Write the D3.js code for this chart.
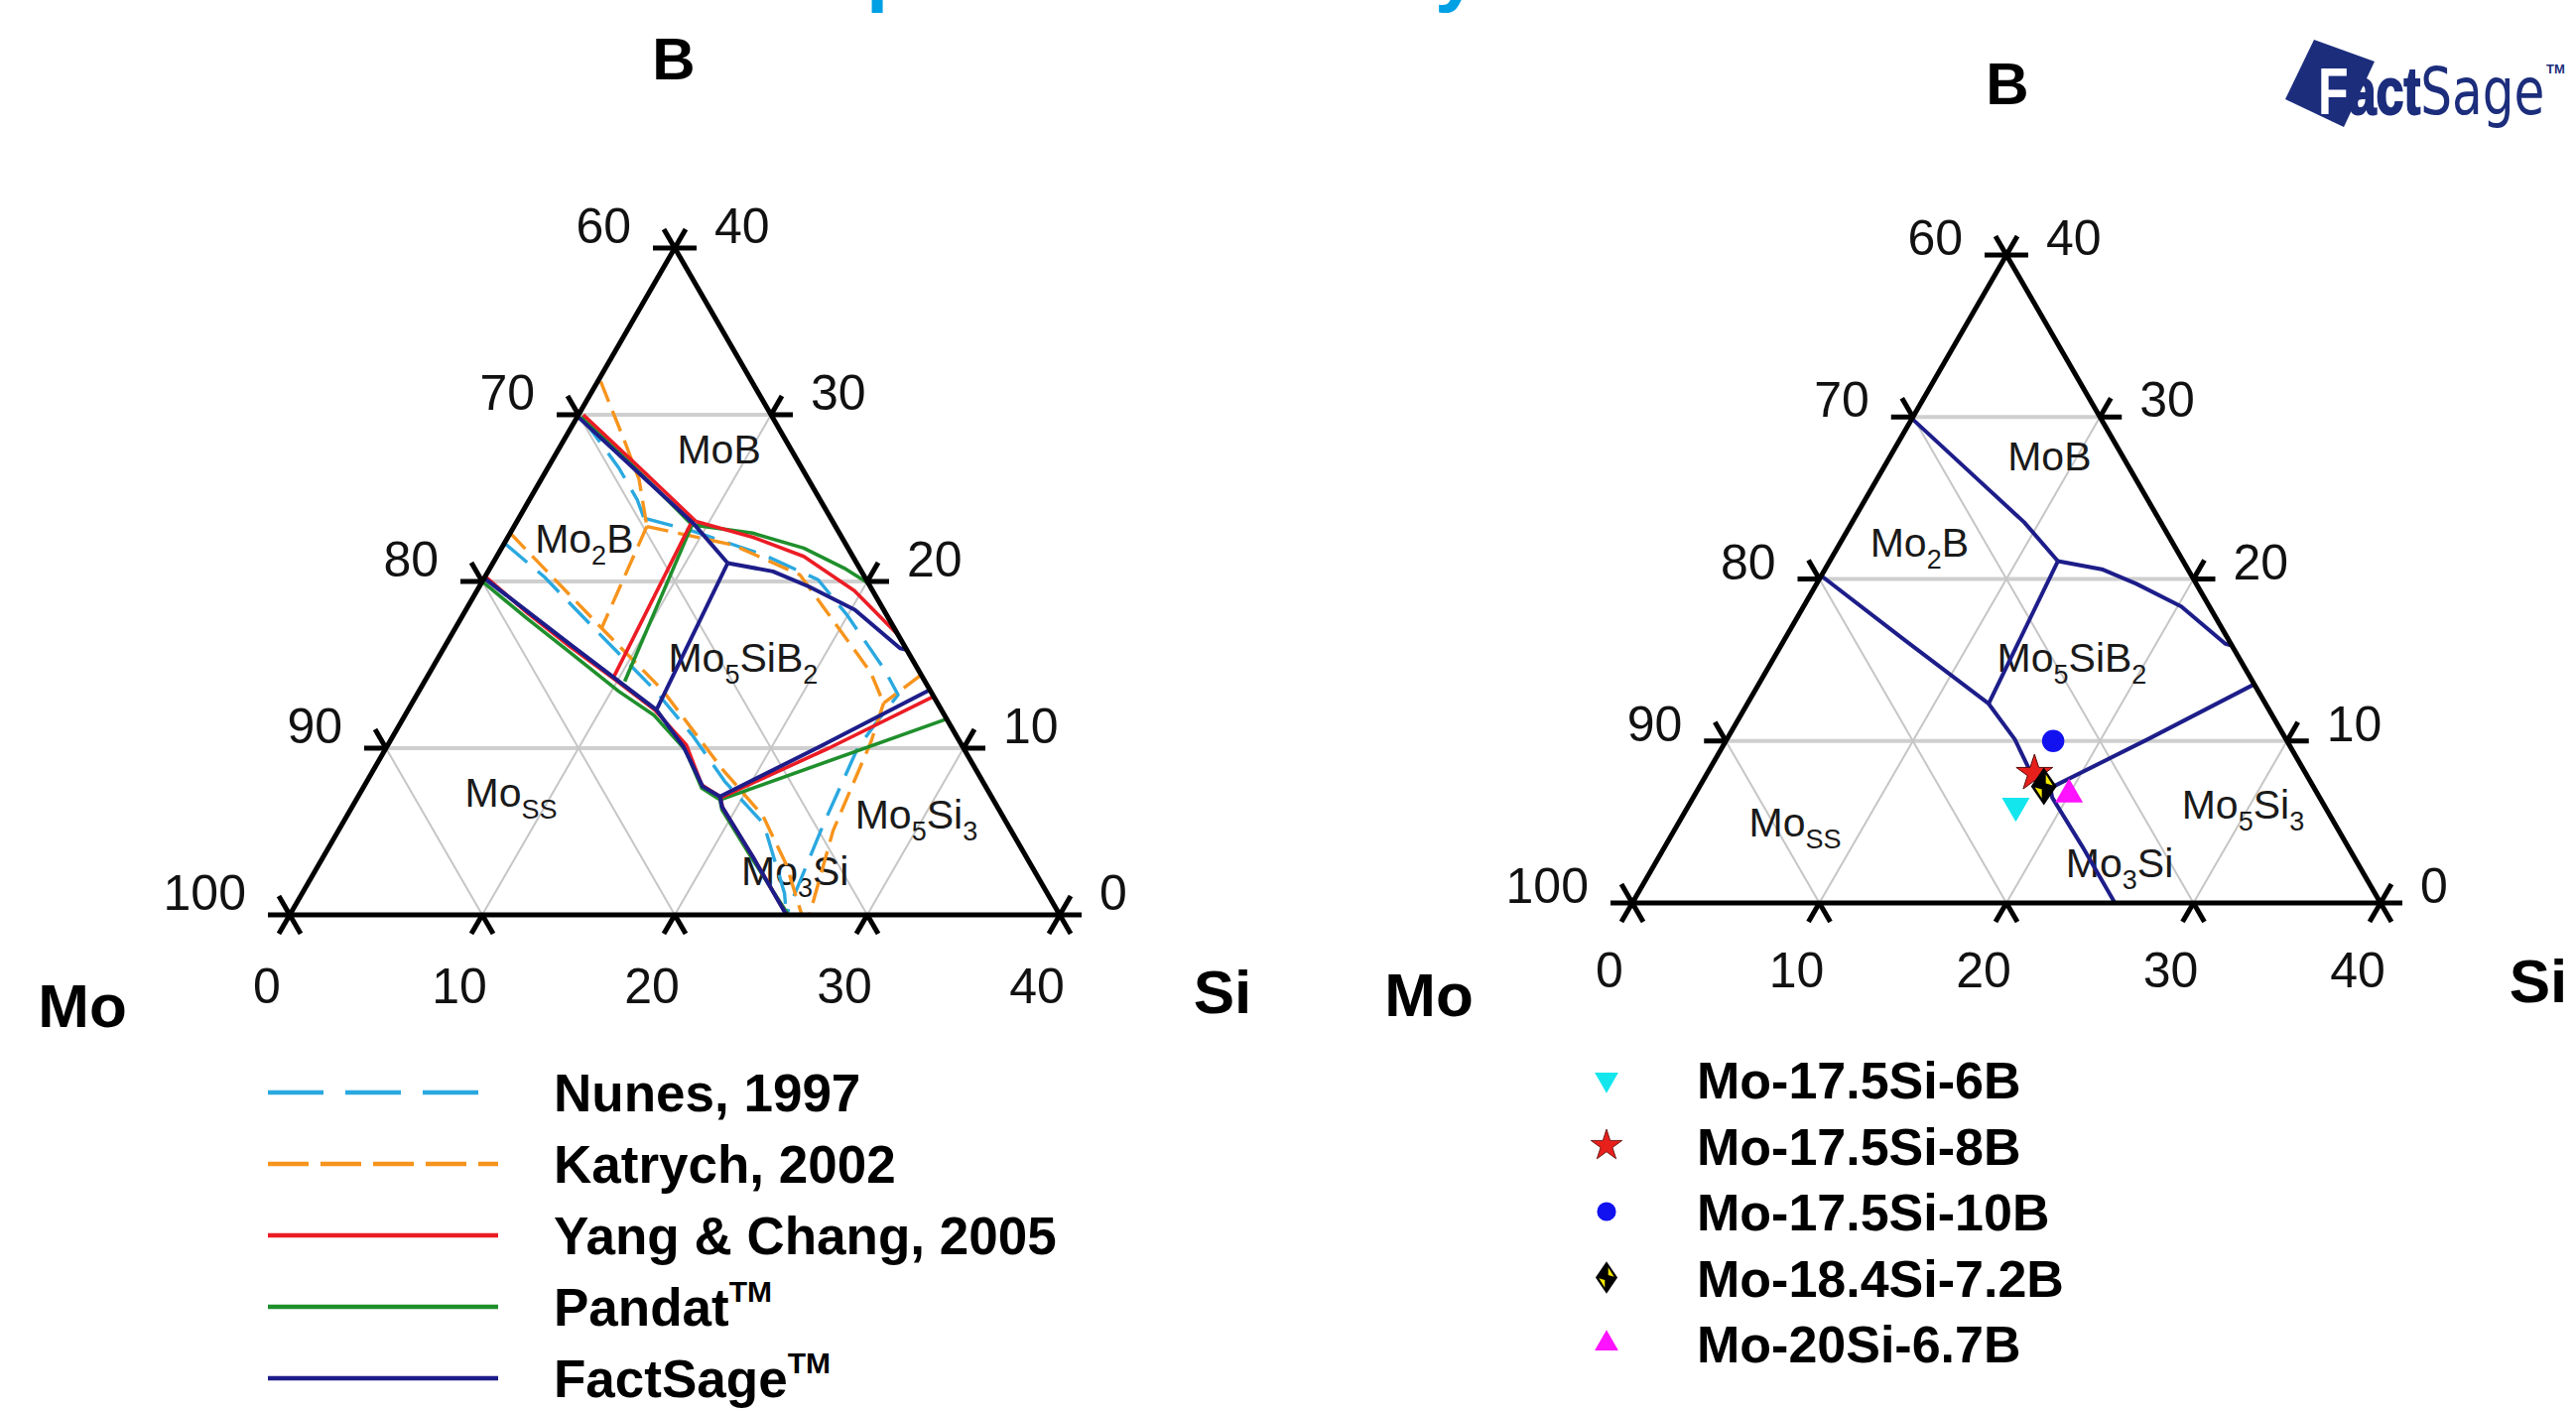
<!DOCTYPE html>
<html><head><meta charset="utf-8">
<script src="https://cdn.jsdelivr.net/npm/d3@7"></script>
<style>html,body{margin:0;padding:0;background:#fff;} svg{display:block;}</style>
</head><body>
<svg id="chart" width="2596" height="1421"></svg>
<script>
// ================= DATA =================
const titleText = "Mo-Si-B phase boundary";
const axisTicks = [0, 10, 20, 30, 40];
const gridVals = [10, 20, 30];
const leftTickLabels = ["100", "90", "80", "70", "60"];   // Mo (at B = 0..40)
const rightTickLabels = ["0", "10", "20", "30", "40"];    // B
const bottomTickLabels = ["0", "10", "20", "30", "40"];   // Si
const cornerLabels = ["B", "Mo", "Si"];

// phase field labels: [text, isSubscript]
const phaseLabelParts = [
  [["MoB", 0]],
  [["Mo", 0], ["2", 1], ["B", 0]],
  [["Mo", 0], ["5", 1], ["SiB", 0], ["2", 1]],
  [["Mo", 0], ["SS", 1]],
  [["Mo", 0], ["5", 1], ["Si", 0], ["3", 1]],
  [["Mo", 0], ["3", 1], ["Si", 0]]
];
const phaseSiLeft = [8.3, 4.0, 15.8, 7.8, 29.5, 24.9];
const phaseBLeft = [28.0, 22.6, 15.5, 7.4, 6.1, 2.7];
const phaseSiRight = [8.5, 4.2, 15.9, 6.2, 29.6, 24.8];
const phaseBRight = [27.6, 22.3, 15.2, 5.0, 6.1, 2.5];

// boundary lines, points are [Si at.%, B at.%]
const nunesLines = [
  [[0.3, 29.8], [3.7, 26.8], [5.6, 24.9], [6.5, 23.8]],
  [[6.5, 23.8], [9.5, 23.0], [13.8, 21.6], [17.4, 20.1], [20.0, 17.95], [21.8, 16.3], [23.5, 14.75], [25.0, 13.2], [24.7, 11.5], [24.5, 10.0], [25.0, 5.5], [25.6, 1.3], [25.8, 0]],
  [[0, 22.3], [3.05, 20.3], [7.2, 17.2], [12.2, 13.5], [15.5, 10.8], [18.6, 8.0], [21.9, 5.45], [25.05, 1.3], [25.8, 0]]
];
const katrychLines = [
  [[0.15, 32.0], [3.2, 28.4], [5.1, 26.1], [6.9, 23.3]],
  [[6.9, 23.3], [9.15, 22.8], [11.9, 22.2], [16.3, 20.4], [18.9, 18.1], [20.7, 16.5], [22.9, 14.55], [24.5, 12.7]],
  [[25.6, 14.4], [24.5, 12.7]],
  [[24.5, 12.7], [25.0, 10.4], [25.7, 5.05], [27.0, 0]],
  [[0, 22.9], [7.6, 17.2], [12.6, 13.5], [18.15, 8.7], [21.6, 5.95], [24.3, 3.0], [26.6, 0]],
  [[6.9, 23.3], [7.6, 17.2]]
];
const pandatLines = [
  [[0.2, 29.9], [4.7, 26.7], [9.2, 23.4]],
  [[9.2, 23.4], [12.6, 22.9], [15.7, 22.0], [18.4, 20.8], [20.1, 19.9]],
  [[9.2, 23.4], [10.4, 14.0]],
  [[0, 20.0], [3.4, 17.8], [6.6, 15.8], [10.4, 13.4], [12.9, 12.0], [15.6, 9.9], [17.6, 7.6], [18.9, 6.9], [19.3, 6.3], [22.3, 3.4], [25.9, 0]],
  [[18.9, 6.9], [28.25, 11.75]]
];
const yangLines = [
  [[0.25, 30.0], [4.8, 26.8], [9.3, 23.6]],
  [[9.3, 23.6], [12.75, 22.65], [15.95, 21.5], [19.6, 19.45], [23.2, 16.8]],
  [[9.1, 23.5], [9.7, 14.2]],
  [[0, 20.3], [3.3, 18.1], [6.5, 16.1], [9.7, 14.2], [12.8, 12.3], [15.5, 10.2], [17.5, 7.8], [18.8, 7.1], [19.3, 6.4], [22.3, 3.5], [25.8, 0]],
  [[18.9, 7.05], [23.0, 10.0], [26.9, 13.1]]
];
const factsageLines = [
  [[0, 29.9], [4.6, 26.7], [9.2, 23.5], [12.2, 21.1]],
  [[12.2, 21.1], [14.8, 20.6], [17.1, 19.7], [20.2, 18.3], [23.7, 16.0], [24.1, 15.9]],
  [[12.2, 21.1], [12.9, 12.3]],
  [[0, 20.2], [6.5, 16.2], [12.9, 12.3], [15.4, 10.1], [17.6, 7.7], [18.8, 7.1], [19.2, 6.5], [22.3, 3.5], [25.8, 0]],
  [[18.8, 7.1], [22.5, 10.1], [26.5, 13.5]]
];
const seriesNames = ["Nunes, 1997", "Katrych, 2002", "Yang & Chang, 2005", "Pandat", "FactSage"];
const seriesTM = [false, false, false, true, true];

// alloys (right diagram)
const alloyNames = ["Mo-17.5Si-6B", "Mo-17.5Si-8B", "Mo-17.5Si-10B", "Mo-18.4Si-7.2B", "Mo-20Si-6.7B"];
const alloySi = [17.5, 17.5, 17.5, 18.4, 20.0];
const alloyB = [6.0, 8.0, 10.0, 7.2, 6.7];

// ================= STYLE =================
const FONT = "Arial, 'Liberation Sans', Helvetica, sans-serif";
const NAVY = "#1d1d8a";
const seriesStyles = [
  {color: "#2aa8e0", dash: "30,14", legendDash: "56,22", width: 3.4},
  {color: "#f7941d", dash: "22,10", legendDash: "41,12", width: 3.4},
  {color: "#ec1c24", dash: null, legendDash: null, width: 3.6},
  {color: "#1f8f2c", dash: null, legendDash: null, width: 3.6},
  {color: NAVY, dash: null, legendDash: null, width: 4}
];
const seriesData = [nunesLines, katrychLines, yangLines, pandatLines, factsageLines];
const drawOrder = [0, 1, 3, 2, 4];

const svg = d3.select("#chart");

// ---------- title (cropped at the top) ----------
const title = svg.append("text").text(titleText)
  .attr("font-family", FONT).attr("font-weight", "bold")
  .attr("font-size", 100).attr("fill", "#00a0e4").attr("x", 0).attr("y", -5);
{
  const node = title.node();
  const ip = titleText.indexOf("p"), iy = titleText.lastIndexOf("y");
  const px = node.getStartPositionOfChar(ip).x, yx = node.getStartPositionOfChar(iy).x;
  const k = (1446 - 873) / (yx - px);
  const fs = 100 * k;
  title.attr("font-size", fs).attr("x", 873 - px * k).attr("y", 13 - 0.21 * fs);
}

// ---------- ternary helpers ----------
function ternary(x0, y0, side) {
  const h = side * Math.sqrt(3) / 2;
  const xs = d3.scaleLinear().domain([0, 40]).range([x0, x0 + side]);
  const ys = d3.scaleLinear().domain([0, 40]).range([y0, y0 - h]);
  const P = (si, b) => [xs(si + b / 2), ys(b)];
  return {P, xs, ys};
}
function seg(g, a, b) {
  return g.append("line").attr("x1", a[0]).attr("y1", a[1]).attr("x2", b[0]).attr("y2", b[1]);
}

function drawFrame(g, T) {
  const grid = g.append("g");
  gridVals.forEach(v => {
    seg(grid, T.P(0, v), T.P(40 - v, v)).attr("stroke", "#cfcfcf").attr("stroke-width", 4);
  });
  gridVals.forEach(v => {
    seg(grid, T.P(v, 0), T.P(v, 40 - v)).attr("stroke", "#c6c6c6").attr("stroke-width", 2);
    seg(grid, T.P(0, v), T.P(v, 0)).attr("stroke", "#c6c6c6").attr("stroke-width", 2);
  });
}

function drawAxes(g, T, o) {
  const ax = g.append("g").attr("stroke", "#000").attr("stroke-width", 5).attr("stroke-linecap", "butt");
  const tri = [T.P(0, 0), T.P(40, 0), T.P(0, 40)];
  ax.append("path").attr("d", "M" + tri.map(p => p.join(",")).join("L") + "Z")
    .attr("fill", "none").attr("stroke-linejoin", "miter");
  const t = 22, c = 0.5, s = Math.sqrt(3) / 2;
  axisTicks.forEach(v => {
    const L = T.P(0, v);
    seg(ax, L, [L[0] - t, L[1]]); seg(ax, L, [L[0] - t * c, L[1] - t * s]);
    const R = T.P(40 - v, v);
    seg(ax, R, [R[0] + t, R[1]]); seg(ax, R, [R[0] + t * c, R[1] - t * s]);
    const B = T.P(v, 0);
    seg(ax, B, [B[0] - t * c, B[1] + t * s]); seg(ax, B, [B[0] + t * c, B[1] + t * s]);
  });
  const lab = g.append("g").attr("font-family", FONT).attr("font-size", 50).attr("fill", "#111");
  axisTicks.forEach((v, i) => {
    const L = T.P(0, v);
    lab.append("text").attr("x", L[0] - 44).attr("y", L[1] + o.sideDy + 18).attr("text-anchor", "end").text(leftTickLabels[i]);
    const R = T.P(40 - v, v);
    lab.append("text").attr("x", R[0] + 40).attr("y", R[1] + o.sideDy + 18).attr("text-anchor", "start").text(rightTickLabels[i]);
    const B = T.P(v, 0);
    lab.append("text").attr("x", B[0] - 23).attr("y", B[1] + o.bottomDy + 18).attr("text-anchor", "middle").text(bottomTickLabels[i]);
  });
  const big = g.append("g").attr("font-family", FONT).attr("font-weight", "bold").attr("fill", "#000").attr("text-anchor", "middle");
  big.append("text").attr("x", o.bPos[0]).attr("y", o.bPos[1]).attr("font-size", 60).text(cornerLabels[0]);
  big.append("text").attr("x", o.moPos[0]).attr("y", o.moPos[1]).attr("font-size", 62).text(cornerLabels[1]);
  big.append("text").attr("x", o.siPos[0]).attr("y", o.siPos[1]).attr("font-size", 62).text(cornerLabels[2]);
}

function drawPhaseLabels(g, T, siArr, bArr) {
  const lg = g.append("g").attr("font-family", FONT).attr("font-size", 41).attr("fill", "#1a1a1a");
  phaseLabelParts.forEach((parts, i) => {
    const p = T.P(siArr[i], bArr[i]);
    const t = lg.append("text").attr("x", p[0]).attr("y", p[1] + 15).attr("text-anchor", "middle");
    let shifted = false;
    parts.forEach(([str, sub]) => {
      const ts = t.append("tspan").text(str);
      if (sub && !shifted) { ts.attr("dy", 12).attr("font-size", 27); shifted = true; }
      else if (sub) { ts.attr("font-size", 27); }
      else if (!sub && shifted) { ts.attr("dy", -12); shifted = false; }
    });
  });
}

function drawSeries(g, T, idxs) {
  const gen = d3.line().x(d => T.P(d[0], d[1])[0]).y(d => T.P(d[0], d[1])[1]);
  idxs.forEach(si => {
    const st = seriesStyles[si];
    const sg = g.append("g").attr("fill", "none").attr("stroke", st.color)
      .attr("stroke-width", st.width).attr("stroke-linejoin", "round").attr("stroke-linecap", "butt");
    if (st.dash) sg.attr("stroke-dasharray", st.dash);
    seriesData[si].forEach(pts => sg.append("path").attr("d", gen(pts)));
  });
}

function drawMarker(g, type, x, y, k) {
  const m = g.append("g").attr("transform", `translate(${x},${y}) scale(${k})`);
  if (type === 0) m.append("path").attr("d", d3.symbol().type(d3.symbolTriangle).size(340)()).attr("transform", "rotate(180)").attr("fill", "#14e6ee");
  else if (type === 1) m.append("path").attr("d", d3.symbol().type(d3.symbolStar).size(420)()).attr("fill", "#e8201c").attr("stroke", "#5a0a0a").attr("stroke-width", 1);
  else if (type === 2) m.append("path").attr("d", d3.symbol().type(d3.symbolCircle).size(400)()).attr("fill", "#1212f0");
  else if (type === 3) {
    m.append("path").attr("d", "M0,-19L13,0L0,19L-13,0Z").attr("fill", "#000");
    m.append("path").attr("d", "M-2,3L-9,1L-2,12Z").attr("fill", "#f2e600");
    m.append("path").attr("d", "M2,-3L9,-1L2,-12Z").attr("fill", "#f2e600");
  }
  else if (type === 4) m.append("path").attr("d", d3.symbol().type(d3.symbolTriangle).size(340)()).attr("fill", "#ff12ff");
}

// ================= LEFT DIAGRAM =================
const TL = ternary(292, 922, 776);
const gL = svg.append("g");
drawFrame(gL, TL);
drawPhaseLabels(gL, TL, phaseSiLeft, phaseBLeft);
drawSeries(gL, TL, drawOrder);
drawAxes(gL, TL, {sideDy: -23, bottomDy: 71, bPos: [679, 80], moPos: [83, 1035], siPos: [1232, 1021]});

// left legend
{
  const lg = svg.append("g");
  const rowY = d3.scalePoint().domain(d3.range(seriesNames.length)).range([1101, 1389]);
  seriesNames.forEach((name, i) => {
    const st = seriesStyles[i];
    const y = rowY(i);
    const l = seg(lg, [270, y], [502, y]).attr("stroke", st.color).attr("stroke-width", 4.5);
    if (st.legendDash) l.attr("stroke-dasharray", st.legendDash);
    const t = lg.append("text").attr("x", 558).attr("y", y + 19).attr("font-family", FONT)
      .attr("font-weight", "bold").attr("font-size", 53).attr("fill", "#000").text(name);
    if (seriesTM[i]) t.append("tspan").attr("font-size", 30).attr("dy", -24).text("TM");
  });
}

// ================= RIGHT DIAGRAM =================
const TR = ternary(1645, 910, 754);
const gR = svg.append("g");
drawFrame(gR, TR);
drawPhaseLabels(gR, TR, phaseSiRight, phaseBRight);
drawSeries(gR, TR, [4]);
drawAxes(gR, TR, {sideDy: -18, bottomDy: 67, bPos: [2023, 105], moPos: [1440, 1024], siPos: [2558, 1010]});
alloyNames.forEach((n, i) => {
  const p = TR.P(alloySi[i], alloyB[i]);
  drawMarker(gR, i, p[0], p[1], 1);
});

// right legend
{
  const lg = svg.append("g");
  const rowY = d3.scalePoint().domain(d3.range(alloyNames.length)).range([1088, 1354]);
  alloyNames.forEach((name, i) => {
    const y = rowY(i);
    drawMarker(lg, i, 1619, y, 0.85);
    lg.append("text").attr("x", 1710).attr("y", y + 19).attr("font-family", FONT)
      .attr("font-weight", "bold").attr("font-size", 52).attr("fill", "#000").text(name);
  });
}

// ================= FactSage logo =================
{
  const LOGO = "#1c2d7c";
  const lg = svg.append("g");
  lg.append("polygon").attr("points", "2303,100 2332,40 2393,62 2362,128").attr("fill", LOGO);
  const tg = lg.append("g").attr("transform", "translate(2336,115) scale(0.76,1)");
  const t = tg.append("text").attr("x", 0).attr("y", 0).attr("font-family", FONT).attr("font-size", 66);
  t.append("tspan").attr("font-weight", "bold").attr("fill", "#fff").attr("stroke", LOGO)
    .attr("stroke-width", 2.5).attr("paint-order", "stroke").text("F");
  t.append("tspan").attr("font-weight", "bold").attr("fill", LOGO).attr("stroke", LOGO)
    .attr("stroke-width", 2).text("act");
  t.append("tspan").attr("font-family", "'DejaVu Sans', " + FONT).attr("fill", LOGO).text("Sage");
  lg.append("text").attr("x", 2566).attr("y", 74).attr("font-family", FONT).attr("font-weight", "bold")
    .attr("font-size", 13).attr("fill", LOGO).text("TM");
}
</script>
</body></html>
